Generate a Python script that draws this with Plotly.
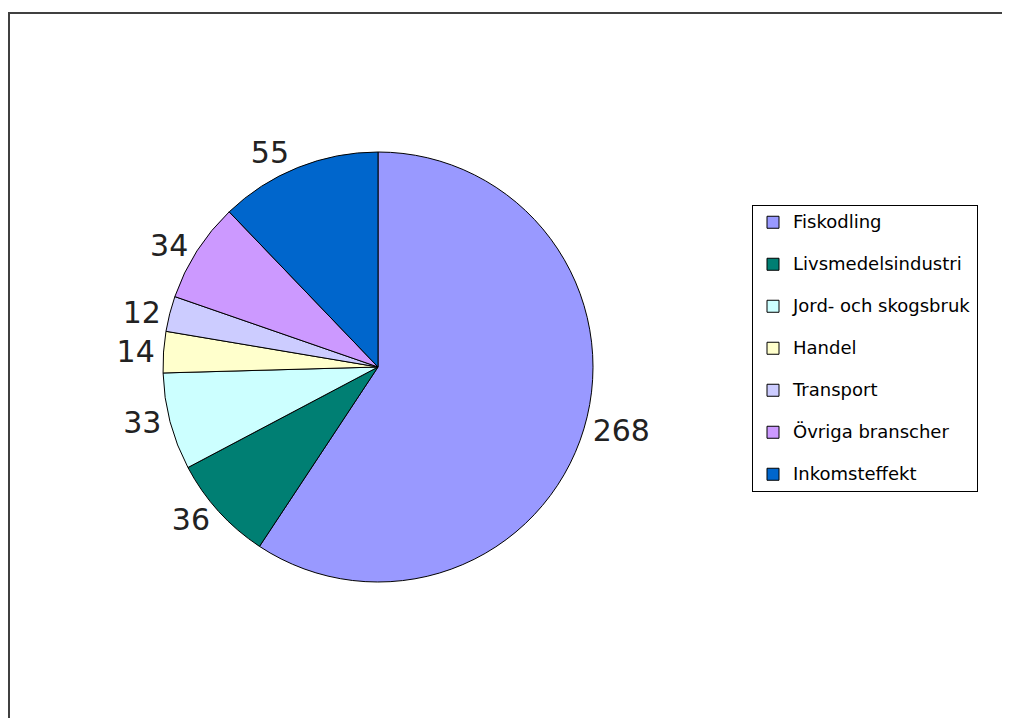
import plotly.graph_objects as go

categories = ["Fiskodling", "Livsmedelsindustri", "Jord- och skogsbruk", "Handel",
              "Transport", "Övriga branscher", "Inkomsteffekt"]
values = [268, 36, 33, 14, 12, 34, 55]
colors = ["#9999FF", "#007F73", "#CCFFFF", "#FFFFCC", "#CCCCFF", "#CC99FF", "#0066CC"]

# legend labels: extra blank line gives the wide row spacing of the original legend
def lab(c, last=False):
    s = '<span style="font-size:18px">' + c + '</span>'
    return s if last else s + "<br> "

legend_labels = [lab(c) for c in categories[:-1]] + [lab(categories[-1], True)]

# page has an 8px body margin; figure is sized so it fits the 1010x718 window
W, H = 1002, 710
OFF = 8

cx, cy, r = 378 - OFF, 367 - OFF, 215

fig = go.Figure(go.Pie(
    labels=legend_labels,
    values=values,
    sort=False,
    direction="clockwise",
    rotation=0,
    marker=dict(colors=colors, line=dict(color="black", width=1)),
    textinfo="value",
    textposition="outside",
    outsidetextfont=dict(family="DejaVu Sans", size=30, color="#222222"),
    hoverinfo="value",
    domain=dict(x=[(cx - r) / W, (cx + r) / W], y=[1 - (cy + r) / H, 1 - (cy - r) / H]),
))

fig.add_shape(type="rect", xref="paper", yref="paper",
              x0=1 / W, x1=3, y0=-2, y1=1 - (13 - OFF) / H,
              line=dict(color="#404040", width=2), fillcolor="rgba(0,0,0,0)")

fig.update_layout(
    width=W, height=H,
    margin=dict(l=0, r=0, t=0, b=0, autoexpand=False),
    paper_bgcolor="white",
    showlegend=True,
    legend=dict(
        x=(752 - OFF) / W, y=1 - (205 - OFF) / H, xanchor="left", yanchor="top",
        bordercolor="black", borderwidth=1, bgcolor="white",
        font=dict(family="DejaVu Sans", size=15, color="black"),
        valign="top", traceorder="normal", itemwidth=30,
    ),
)

fig.write_html("out.html")
